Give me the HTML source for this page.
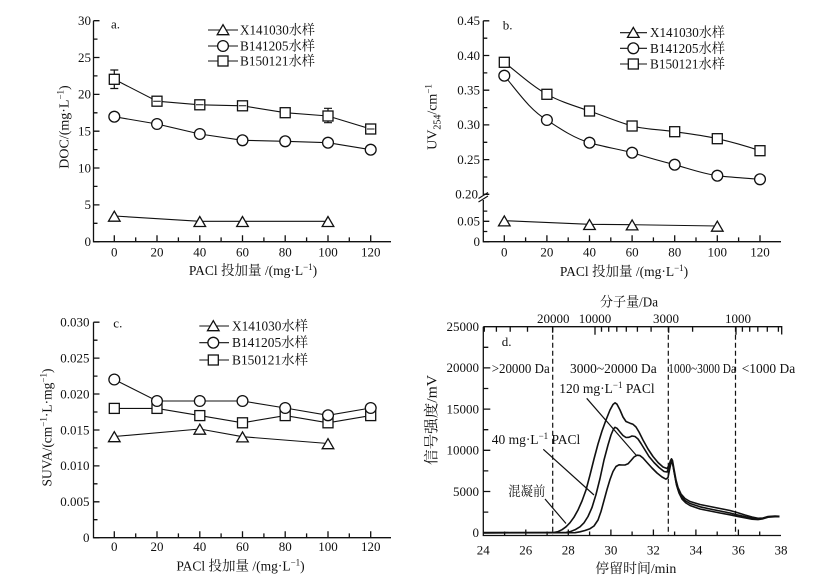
<!DOCTYPE html>
<html><head><meta charset="utf-8"><style>
html,body{margin:0;padding:0;background:#fff;}
svg{display:block;}
text{font-family:"Liberation Serif","Noto Serif CJK SC",serif;fill:#111;}
</style></head><body>
<svg width="834" height="580" viewBox="0 0 834 580" xmlns="http://www.w3.org/2000/svg">
<defs>
<g id="tri"><polygon points="0,-5.8 -5.8,4.2 5.8,4.2" fill="#fff" stroke="#111" stroke-width="1.3"/></g>
<g id="cir"><circle r="5.4" fill="#fff" stroke="#111" stroke-width="1.3"/></g>
<g id="sq"><rect x="-5" y="-5" width="10" height="10" fill="#fff" stroke="#111" stroke-width="1.3"/></g>
</defs>

<!-- ================= PANEL A ================= -->
<g stroke="#111" stroke-width="1.3" fill="none">
<path d="M93.5,20.7 V241.7 H391"/>
<path d="M93.5,241.7h6M93.5,204.9h6M93.5,168h6M93.5,131.2h6M93.5,94.4h6M93.5,57.5h6M93.5,20.7h6"/>
<path d="M93.5,223.3h4M93.5,186.4h4M93.5,149.6h4M93.5,112.8h4M93.5,75.9h4M93.5,39.1h4"/>
<path d="M114.3,241.7v-6.5M157,241.7v-6.5M199.8,241.7v-6.5M242.5,241.7v-6.5M285.2,241.7v-6.5M328,241.7v-6.5M370.7,241.7v-6.5"/>
<path d="M135.7,241.7v-4.3M178.4,241.7v-4.3M221.1,241.7v-4.3M263.9,241.7v-4.3M306.6,241.7v-4.3M349.3,241.7v-4.3"/>
</g>
<g font-size="13" text-anchor="end">
<text x="91" y="246">0</text><text x="91" y="209.2">5</text><text x="91" y="172.3">10</text><text x="91" y="135.5">15</text><text x="91" y="98.7">20</text><text x="91" y="61.8">25</text><text x="91" y="25">30</text>
</g>
<g font-size="13" text-anchor="middle">
<text x="114.3" y="256.5">0</text><text x="157" y="256.5">20</text><text x="199.8" y="256.5">40</text><text x="242.5" y="256.5">60</text><text x="285.2" y="256.5">80</text><text x="328" y="256.5">100</text><text x="370.7" y="256.5">120</text>
</g>
<text x="111" y="28.5" font-size="13">a.</text>
<text transform="translate(68.5,127) rotate(-90)" text-anchor="middle" font-size="14">DOC/(mg·L<tspan dy="-5" font-size="9">−1</tspan><tspan dy="5">)</tspan></text>
<text x="253" y="275" text-anchor="middle" font-size="13.5">PACl 投加量 /(mg·L<tspan dy="-5" font-size="9">−1</tspan><tspan dy="5">)</tspan></text>
<!-- legend a -->
<g stroke="#111" stroke-width="1.1"><path d="M208,30H238M208,46H238M208,61H238"/></g>
<use href="#tri" x="223" y="30.5"/><use href="#cir" x="223" y="46"/><use href="#sq" x="223" y="61"/>
<g font-size="13.5"><text x="240" y="34.5" textLength="75" lengthAdjust="spacingAndGlyphs">X141030水样</text><text x="240" y="50.5" textLength="75" lengthAdjust="spacingAndGlyphs">B141205水样</text><text x="240" y="65.5" textLength="75" lengthAdjust="spacingAndGlyphs">B150121水样</text></g>
<!-- series a -->
<g stroke="#111" stroke-width="1.1" fill="none">
<polyline points="114.3,216 199.8,221.3 242.5,221.3 328,221.3"/>
<polyline points="114.3,116.7 157,124 199.8,134 242.5,140.3 285.2,141.3 328,142.7 370.7,149.7"/>
<polyline points="114.3,79.3 157,101.2 199.8,104.8 242.5,105.8 285.2,112.7 328,116 370.7,129"/>
<path d="M114.3,70V88.5M110.3,70h8M110.3,88.5h8M328,108.3V122.7M324,108.3h8M324,122.7h8" stroke-width="1.2"/>
</g>
<use href="#tri" x="114.3" y="217"/><use href="#tri" x="199.8" y="222.3"/><use href="#tri" x="242.5" y="222.3"/><use href="#tri" x="328" y="222.3"/>
<use href="#cir" x="114.3" y="116.7"/><use href="#cir" x="157" y="124"/><use href="#cir" x="199.8" y="134"/><use href="#cir" x="242.5" y="140.3"/><use href="#cir" x="285.2" y="141.3"/><use href="#cir" x="328" y="142.7"/><use href="#cir" x="370.7" y="149.7"/>
<use href="#sq" x="114.3" y="79.3"/><use href="#sq" x="157" y="101.2"/><use href="#sq" x="199.8" y="104.8"/><use href="#sq" x="242.5" y="105.8"/><use href="#sq" x="285.2" y="112.7"/><use href="#sq" x="328" y="116"/><use href="#sq" x="370.7" y="129"/>
<g stroke="#111" stroke-width="1"><path d="M196,104.8h7.6M238.7,105.8h7.6M366.9,129h7.6M153.2,101.2h7.6"/></g>

<!-- ================= PANEL B ================= -->
<g stroke="#111" stroke-width="1.3" fill="none">
<path d="M483.3,20.7 V195"/>
<path d="M483.3,200 V241.7 H781"/>
<path d="M478.5,198.5 L488,192.5 M478.5,202 L488,196" stroke-width="1.1"/>
<path d="M483.3,20.8h6M483.3,55.5h6M483.3,90.2h6M483.3,124.9h6M483.3,159.6h6M483.3,194.3h6M483.3,221.3h6M483.3,241.7h6"/>
<path d="M483.3,38.2h4M483.3,72.9h4M483.3,107.6h4M483.3,142.3h4M483.3,177h4M483.3,211.1h4M483.3,231.5h4"/>
<path d="M504.3,241.7v-6.5M546.9,241.7v-6.5M589.5,241.7v-6.5M632.1,241.7v-6.5M674.7,241.7v-6.5M717.3,241.7v-6.5M760,241.7v-6.5"/>
<path d="M525.6,241.7v-4.3M568.2,241.7v-4.3M610.8,241.7v-4.3M653.4,241.7v-4.3M696,241.7v-4.3M738.6,241.7v-4.3"/>
</g>
<g font-size="13" text-anchor="end">
<text x="480" y="25.1">0.45</text><text x="480" y="59.8">0.40</text><text x="480" y="94.5">0.35</text><text x="480" y="129.2">0.30</text><text x="480" y="163.9">0.25</text><text x="478" y="198.6">0.20</text><text x="480" y="225.6">0.05</text><text x="480" y="246">0</text>
</g>
<g font-size="13" text-anchor="middle">
<text x="504.3" y="256.5">0</text><text x="546.9" y="256.5">20</text><text x="589.5" y="256.5">40</text><text x="632.1" y="256.5">60</text><text x="674.7" y="256.5">80</text><text x="717.3" y="256.5">100</text><text x="760" y="256.5">120</text>
</g>
<text x="502.7" y="29.5" font-size="13">b.</text>
<text transform="translate(436.5,117) rotate(-90)" text-anchor="middle" font-size="14">UV<tspan dy="4" font-size="10">254</tspan><tspan dy="-4">/cm</tspan><tspan dy="-5" font-size="9">−1</tspan></text>
<text x="624" y="276" text-anchor="middle" font-size="13.5">PACl 投加量 /(mg·L<tspan dy="-5" font-size="9">−1</tspan><tspan dy="5">)</tspan></text>
<g stroke="#111" stroke-width="1.1"><path d="M620,32.7H647M620,48.3H647M620,64H647"/></g>
<use href="#tri" x="633.3" y="33.2"/><use href="#cir" x="633.3" y="48.3"/><use href="#sq" x="633.3" y="64"/>
<g font-size="13.5"><text x="650" y="37.2" textLength="75" lengthAdjust="spacingAndGlyphs">X141030水样</text><text x="650" y="52.8" textLength="75" lengthAdjust="spacingAndGlyphs">B141205水样</text><text x="650" y="68.5" textLength="75" lengthAdjust="spacingAndGlyphs">B150121水样</text></g>
<g stroke="#111" stroke-width="1.1" fill="none">
<polyline points="504.3,220.7 589.5,224.3 632.1,224.7 717.3,226"/>
<path d="M504.3,75.7 C518,92 530,110 546.9,120 C562,130 574,138 589.5,142.7 C604,147 618,149 632.1,152.7 C646,157 660,161 674.7,164.7 C690,169 704,174 717.3,175.7 C731,177.5 746,178 760,179.3"/>
<path d="M504.3,62.3 C518,73 532,86 546.9,94.3 C561,102 575,106 589.5,111 C604,116 618,122 632.1,126 C646,129.5 660,129.5 674.7,131.7 C690,134 704,135.5 717.3,138.7 C732,142 746,146 760,150.7"/>
</g>
<use href="#tri" x="504.3" y="221.7"/><use href="#tri" x="589.5" y="225.3"/><use href="#tri" x="632.1" y="225.7"/><use href="#tri" x="717.3" y="227"/>
<use href="#cir" x="504.3" y="75.7"/><use href="#cir" x="546.9" y="120"/><use href="#cir" x="589.5" y="142.7"/><use href="#cir" x="632.1" y="152.7"/><use href="#cir" x="674.7" y="164.7"/><use href="#cir" x="717.3" y="175.7"/><use href="#cir" x="760" y="179.3"/>
<use href="#sq" x="504.3" y="62.3"/><use href="#sq" x="546.9" y="94.3"/><use href="#sq" x="589.5" y="111"/><use href="#sq" x="632.1" y="126"/><use href="#sq" x="674.7" y="131.7"/><use href="#sq" x="717.3" y="138.7"/><use href="#sq" x="760" y="150.7"/>

<!-- ================= PANEL C ================= -->
<g stroke="#111" stroke-width="1.3" fill="none">
<path d="M93.5,322.2 V537.7 H391"/>
<path d="M93.5,537.7h6M93.5,501.8h6M93.5,465.9h6M93.5,430h6M93.5,394h6M93.5,358.1h6M93.5,322.2h6"/>
<path d="M93.5,519.7h4M93.5,483.8h4M93.5,447.9h4M93.5,412h4M93.5,376.1h4M93.5,340.2h4"/>
<path d="M114.3,537.7v-6.5M157,537.7v-6.5M199.8,537.7v-6.5M242.5,537.7v-6.5M285.2,537.7v-6.5M328,537.7v-6.5M370.7,537.7v-6.5"/>
<path d="M135.7,537.7v-4.3M178.4,537.7v-4.3M221.1,537.7v-4.3M263.9,537.7v-4.3M306.6,537.7v-4.3M349.3,537.7v-4.3"/>
</g>
<g font-size="13" text-anchor="end">
<text x="89.5" y="542">0</text><text x="89.5" y="506.1">0.005</text><text x="89.5" y="470.2">0.010</text><text x="89.5" y="434.3">0.015</text><text x="89.5" y="398.3">0.020</text><text x="89.5" y="362.4">0.025</text><text x="89.5" y="326.5">0.030</text>
</g>
<g font-size="13" text-anchor="middle">
<text x="114.3" y="551">0</text><text x="157" y="551">20</text><text x="199.8" y="551">40</text><text x="242.5" y="551">60</text><text x="285.2" y="551">80</text><text x="328" y="551">100</text><text x="370.7" y="551">120</text>
</g>
<text x="113.3" y="327.5" font-size="13">c.</text>
<text transform="translate(51.5,427.5) rotate(-90)" text-anchor="middle" font-size="13.5">SUVA/(cm<tspan dy="-5" font-size="9">−1</tspan><tspan dy="5">·L·mg</tspan><tspan dy="-5" font-size="9">−1</tspan><tspan dy="5">)</tspan></text>
<text x="240.5" y="570.5" text-anchor="middle" font-size="13.5">PACl 投加量 /(mg·L<tspan dy="-5" font-size="9">−1</tspan><tspan dy="5">)</tspan></text>
<g stroke="#111" stroke-width="1.1"><path d="M199.3,326H229M199.3,342.7H229M199.3,360H229"/></g>
<use href="#tri" x="213.3" y="326.5"/><use href="#cir" x="213.3" y="342.7"/><use href="#sq" x="213.3" y="360"/>
<g font-size="13.5"><text x="232" y="330.5" textLength="76" lengthAdjust="spacingAndGlyphs">X141030水样</text><text x="232" y="347.2" textLength="76" lengthAdjust="spacingAndGlyphs">B141205水样</text><text x="232" y="364.5" textLength="76" lengthAdjust="spacingAndGlyphs">B150121水样</text></g>
<g stroke="#111" stroke-width="1.1" fill="none">
<polyline points="114.3,436.5 199.8,429 242.5,436.7 328,443.5"/>
<polyline points="114.3,379.5 157,401 199.8,401 242.5,401 285.2,408 328,415.3 370.7,408"/>
<polyline points="114.3,408.4 157,408.4 199.8,415.6 242.5,422.8 285.2,415.6 328,422.8 370.7,415.6"/>
</g>
<use href="#tri" x="114.3" y="437.5"/><use href="#tri" x="199.8" y="430"/><use href="#tri" x="242.5" y="437.7"/><use href="#tri" x="328" y="444.5"/>
<use href="#sq" x="114.3" y="408.4"/><use href="#sq" x="157" y="408.4"/><use href="#sq" x="199.8" y="415.6"/><use href="#sq" x="242.5" y="422.8"/><use href="#sq" x="285.2" y="415.6"/><use href="#sq" x="328" y="422.8"/><use href="#sq" x="370.7" y="415.6"/>
<use href="#cir" x="114.3" y="379.5"/><use href="#cir" x="157" y="401"/><use href="#cir" x="199.8" y="401"/><use href="#cir" x="242.5" y="401"/><use href="#cir" x="285.2" y="408"/><use href="#cir" x="328" y="415.3"/><use href="#cir" x="370.7" y="408"/>

<!-- ================= PANEL D ================= -->
<g stroke="#111" stroke-width="1.3" fill="none">
<path d="M483.3,326.7 V535.5 H781"/>
<path d="M483.3,326.7 H781.7 V334.5"/>
<path d="M483.3,532.7h7M483.3,491.5h7M483.3,450.3h7M483.3,409.1h7M483.3,367.9h7"/>
<path d="M483.3,512.1h5M483.3,470.9h5M483.3,429.7h5M483.3,388.5h5M483.3,347.3h5"/>
<path d="M525.8,535.5v-6M568.3,535.5v-6M610.9,535.5v-6M653.4,535.5v-6M695.9,535.5v-6M738.4,535.5v-6"/>
<path d="M504.6,535.5v-4M547.1,535.5v-4M589.6,535.5v-4M632.1,535.5v-4M674.6,535.5v-4M717.2,535.5v-4M759.7,535.5v-4"/>
<path d="M595,326.7v8M736,326.7v8M552.6,326.7v6M668.7,326.7v6"/>
<path d="M484.3,326.7v5M496.4,326.7v5M510.2,326.7v5M527.5,326.7v5M601.5,326.7v5M608.7,326.7v5M616.8,326.7v5M626.3,326.7v5M637.4,326.7v5M651.1,326.7v5M692.6,326.7v5M742.4,326.7v5M749.7,326.7v5M757.8,326.7v5M767.3,326.7v5M778.4,326.7v5"/>
</g>
<g stroke="#111" stroke-width="1.2" stroke-dasharray="5 3" fill="none">
<path d="M552.7,326.7V535.5M668.3,326.7V535.5M735.5,326.7V535.5"/>
</g>
<g font-size="13" text-anchor="end">
<text x="479" y="537">0</text><text x="479" y="495.8">5000</text><text x="479" y="454.6">10000</text><text x="479" y="413.4">15000</text><text x="479" y="372.2">20000</text><text x="479" y="331">25000</text>
</g>
<g font-size="13" text-anchor="middle">
<text x="483.3" y="554.5">24</text><text x="525.8" y="554.5">26</text><text x="568.3" y="554.5">28</text><text x="610.9" y="554.5">30</text><text x="653.4" y="554.5">32</text><text x="695.9" y="554.5">34</text><text x="738.4" y="554.5">36</text><text x="781" y="554.5">38</text>
<text x="553.3" y="322.8">20000</text><text x="595" y="322.8">10000</text><text x="666" y="322.8">3000</text><text x="738" y="322.8">1000</text>
</g>
<text x="629" y="306.5" text-anchor="middle" font-size="13.5" textLength="58" lengthAdjust="spacingAndGlyphs">分子量/Da</text>
<text x="635.8" y="573" text-anchor="middle" font-size="13.5" textLength="81" lengthAdjust="spacingAndGlyphs">停留时间/min</text>
<text transform="translate(436.7,420) rotate(-90)" text-anchor="middle" font-size="14.5" textLength="90" lengthAdjust="spacingAndGlyphs">信号强度/mV</text>
<text x="501.7" y="346" font-size="13">d.</text>
<g font-size="13.5">
<text x="491.7" y="373" textLength="58" lengthAdjust="spacingAndGlyphs">&gt;20000 Da</text>
<text x="570" y="373" textLength="86.7" lengthAdjust="spacingAndGlyphs">3000~20000 Da</text>
<text x="668.3" y="373" textLength="67.7" lengthAdjust="spacingAndGlyphs">1000~3000 Da</text>
<text x="741.7" y="373" textLength="53.5" lengthAdjust="spacingAndGlyphs">&lt;1000 Da</text>
<text x="559.3" y="393">120 mg·L<tspan dy="-5" font-size="9">−1</tspan><tspan dy="5"> PACl</tspan></text>
<text x="491.7" y="444">40 mg·L<tspan dy="-5" font-size="9">−1</tspan><tspan dy="5"> PACl</tspan></text>
<text x="508.3" y="496" textLength="37" lengthAdjust="spacingAndGlyphs">混凝前</text>
</g>
<g stroke="#111" stroke-width="1.2" fill="none">
<path d="M586.7,398.3L636,455M543.3,449.3L594,495M545,499L566,523.5"/>
</g>
<g stroke="#111" stroke-width="1.6" fill="none" stroke-linejoin="round">
<polyline points="483.3,532.6 553,532.6 558,531.6 562,529.7 566,526.8 570,522.7 574,517.2 578,510 582,501 586,490 590,475 594,459 598,444 602,431 606,420 610,410 613,404.5 615,402.8 617,404.2 620,410 623,417 626,421.5 630,423.2 633,424.3 636,427 639,432 643,440 648,449 653,456.5 658,462.5 663,467 667,468.5 669,465.5 670.5,460.5 671.5,458.8 672.5,460.5 674,469 676,480 678,487.5 681,494 685,498.5 690,501.5 700,504.5 710,506.5 720,508.5 730,510.5 737,512.5 745,515 752,517 758,518.3 763,518 768,516.5 775,516 779.5,516.3"/>
<polyline points="483.3,532.8 565,532.6 570,531.7 575,529.8 580,526.8 584,522.8 588,516.5 592,507.5 596,494.5 600,478.5 604,460 608,445 611,435 613.5,429 615,427.3 617,428.3 620,432 623,435.5 626,437.5 629,437.3 632,436 635,436.5 638,439 641,443.5 645,450 649,456.5 654,462.5 659,467.5 664,471.5 667,472 669,467.5 670.5,461.5 671.5,460.3 672.5,462.5 674,471.5 676,482 678,489.5 681,496 685,500.5 690,503.5 700,506.8 710,509 720,511 730,513 737,514.8 745,516.6 752,518.2 758,518.8 763,518.3 768,516.8 775,516.3 779.5,516.5"/>
<polyline points="483.3,532.9 575,532.7 580,531.8 585,530.5 590,528.7 594,526 598,520 601,511.5 604,500.5 607,489.5 610,479.5 613,471.5 616,466.5 619,464.8 622,465 625,465 628,463.8 631,460.5 634,457 637,455.2 640,455.6 643,458 647,462.5 652,468 657,473 662,477 666,479.2 668,477.5 669.5,470 671,463 672,462.3 673,465.5 674.5,474 676.5,485 679,493 682,499 686,503 690,505.5 700,509 710,511 720,513 730,514.8 737,516.3 745,517.8 752,519.2 758,519.6 763,518.8 768,517.2 775,516.7 779.5,516.7"/>
</g>
</svg>
</body></html>
